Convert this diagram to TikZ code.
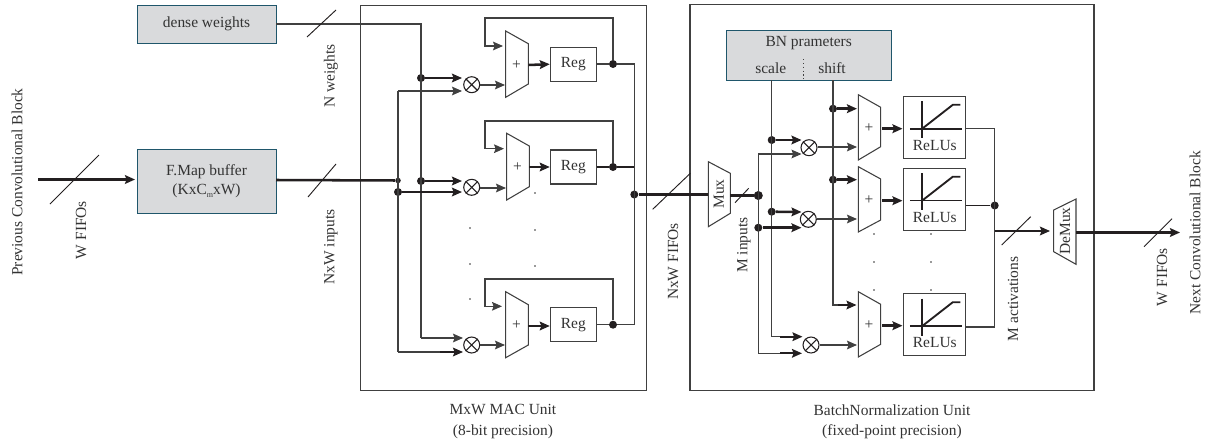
\documentclass[tikz,border=0pt]{standalone}
\usepackage{fontspec}
\setmainfont{Liberation Serif}
\usetikzlibrary{arrows.meta,calc}
\definecolor{ln}{HTML}{404040}
\definecolor{blk}{HTML}{231F20}
\definecolor{bx}{HTML}{D9DADC}
\definecolor{teal}{HTML}{1F566B}
\definecolor{txt}{HTML}{333333}
\tikzset{
  x=.75pt,y=-.75pt,
  wire/.style={draw=ln,line width=.8pt},
  bus/.style={draw=blk,line width=1.9pt},
  midbus/.style={draw=blk,line width=1.4pt},
  slash/.style={draw=blk,line width=.7pt},
  arrw/.style={-{Stealth[length=7.5pt,width=6.5pt,inset=1.2pt]}},
  lab/.style={text=txt,font=\fontsize{11.6}{14.6}\selectfont,inner sep=0pt,align=center},
  vlab/.style={lab,rotate=90},
  store/.style={draw=teal,fill=bx,line width=.7pt,lab,inner sep=0pt},
  regbox/.style={draw=ln,line width=.8pt,lab,inner sep=0pt,minimum width={46*.75pt},minimum height={34*.75pt}},
  relubox/.style={draw=ln,line width=1pt,inner sep=0pt,minimum width={62*.75pt},minimum height={62*.75pt}},
  unit/.style={draw=ln,line width=.8pt,inner sep=0pt},
  mult/.style={circle,draw=blk,line width=.8pt,fill=white,inner sep=0pt,minimum size={16*.75pt}},
  dotb/.style={circle,fill=blk,inner sep=0pt,minimum size={8*.75pt}},
  dots/.style={circle,fill=blk,inner sep=0pt,minimum size={5.5*.75pt}},
  trap/.style={draw=ln,line width=.8pt,fill=white,line join=miter},
  pt/.style={circle,fill=txt,inner sep=0pt,minimum size=1.2pt},
}
\newcommand{\multnode}[2]{%
  \node[mult] (#1) at (#2) {};
  \draw[blk,line width=.8pt] (#1.45) -- (#1.225) (#1.135) -- (#1.315);}
\newcommand{\relunode}[3]{% name, centre x, centre y
  \node[relubox] (#1) at (#2,#3) {};
  \draw[blk,line width=1.4pt]
    ($(#1.center)+(-12.5,-26)$) -- ($(#1.center)+(-12.5,11)$)
    ($(#1.center)+(-25,1.3)$) -- ($(#1.center)+(27,1.3)$);
  \draw[blk,line width=1.4pt] ($(#1.center)+(-12.5,1.3)$) -- ($(#1.center)+(18,-22.5)$) -- ($(#1.center)+(25.5,-22.5)$);
  \node[lab] at ($(#1.center)+(0,18)$) {ReLUs};}
\begin{document}
\begin{tikzpicture}
\useasboundingbox (0,0) rectangle (1210,443);
% units
\node[unit,minimum width={286*.75pt},minimum height={384.6*.75pt}] (mac) at (503.7,198) {};
\node[unit,minimum width={404*.75pt},minimum height={386.3*.75pt}] (bn) at (892,197.2) {};
\node[lab] (maclab) at (503,421.5) {MxW MAC Unit\\[.5pt](8-bit precision)};
\node[lab] (bnlab) at (892,421.5) {BatchNormalization Unit\\[.5pt](fixed-point precision)};
% stores
\node[store,minimum width={139*.75pt},minimum height={38*.75pt}] (dw) at (206.5,24) {dense weights};
\node[store,minimum width={139*.75pt},minimum height={64*.75pt}] (fm) at (206.5,181) {F.Map buffer\\(KxC\raisebox{-.45ex}{\fontsize{6}{6}\selectfont m}xW)};
\node[store,minimum width={165.4*.75pt},minimum height={49.6*.75pt}] (bp) at (809,55.5) {};
\node[lab] (bpt) at (808.7,43) {BN prameters};
\node[lab] (bpsc) at (770.7,68) {scale};
\node[lab] (bpsh) at (832,68) {shift};
\draw[ln,line width=.9pt,dotted] (803.7,59) -- (803.7,79);
% rotated labels
\node[vlab] (prev) at (17,182) {Previous Convolutional Block};
\node[vlab] (wf1) at (81,230) {W FIFOs};
\node[vlab] (nw) at (331,76) {N weights};
\node[vlab] (nxi) at (331,247) {NxW inputs};
\node[vlab] (nxf) at (673,261.5) {NxW FIFOs};
\node[vlab] (mi) at (744,245) {M inputs};
\node[vlab] (mact) at (1013,299) {M activations};
\node[vlab] (wf2) at (1162,277) {W FIFOs};
\node[vlab] (next) at (1195,232.7) {Next Convolutional Block};
% coordinates
\coordinate (start) at (38,179.5);
\coordinate (fmin) at (135,179.5);
\coordinate (fmout) at (276,180);
\coordinate (nwc) at (421,24);
\coordinate (nwb) at (421,338);
\coordinate (m3a) at (463,338);
\coordinate (nxb) at (398,352);
\coordinate (m3b) at (463,352);
\coordinate (nxt) at (398,91);
\coordinate (m1b) at (462,91);
\coordinate (m1a) at (462,78);
\coordinate (m2a) at (462,181);
\coordinate (m2b) at (462,192);
\node[dotb] (d1) at (421,78) {};
\node[dotb] (d2) at (421,181) {};
\node[dots] (d3) at (398,180.5) {};
\node[dotb] (d4) at (398,192) {};
% MAC wires
\draw[wire] (dw.east |- nwc) -- (nwc) -- (nwb);
\draw[wire,arrw] (nwb) -- (m3a);
\draw[wire] (nxt) -- (nxb);
\draw[wire] (nxb) -- (440,352);
\draw[midbus,arrw] (440,352) -- (m3b);
\draw[wire,arrw] (nxt) -- (m1b);
\draw[bus,arrw] (d1) -- (m1a);
\draw[bus,arrw] (d2) -- (m2a);
\draw[bus,arrw] (d4) -- (m2b);
\draw[bus,arrw] (start) -- (fmin);
\draw[bus] (fmout) -- (d3);
% MAC blocks
\multnode{m1}{471.7,84.7}
\multnode{m2}{471.7,187.3}
\multnode{m3}{471.7,345}
\draw[trap] (505.7,31) -- (528.3,43.7) -- (528.3,84) -- (505.7,97.3) -- cycle;
\draw[trap] (506.7,133.3) -- (529.3,146) -- (529.3,186.7) -- (506.7,200) -- cycle;
\draw[trap] (505.7,291.7) -- (528.3,304.7) -- (528.3,345) -- (505.7,357.7) -- cycle;
\node[lab] (p1) at (516.5,65) {+};
\node[lab] (p2) at (517.5,167) {+};
\node[lab] (p3) at (516.5,325) {+};
\node[regbox] (r1) at (573.3,64.2) {Reg};
\node[regbox] (r2) at (573.3,167) {Reg};
\node[regbox] (r3) at (573.3,324.7) {Reg};
\node[dotb] (f1) at (613,64) {};
\node[dotb] (f2) at (613,167) {};
\node[dotb] (f3) at (613,324.7) {};
\coordinate (bust) at (634.3,64);
\coordinate (busb) at (634.3,324.7);
\node[dotb] (bm) at (634.3,194.5) {};
% MAC connectors
\draw[wire,arrw] (m1.east |- 0,85) -- (505,85);
\draw[wire,arrw] (m2.east |- 0,188) -- (506,188);
\draw[wire,arrw] (m3.east |- 0,345) -- (505,345);
\draw[bus,arrw] (528.3,65) -- (r1.west);
\draw[bus,arrw] (529.3,167) -- (r2.west);
\draw[bus,arrw] (528.3,326) -- (r3.west |- 0,326);
\draw[wire] (r1.east |- f1) -- (f1) -- (bust) -- (busb) -- (f3) -- (r3.east |- f3);
\draw[midbus] (r2.east) -- (f2) -- (634.3,167);
\draw[wire,arrw] (f1) -- (613,18) -- (485,18) -- (485,46) -- (503,46);
\draw[wire,arrw] (f2) -- (613,121) -- (485,121) -- (485,148.7) -- (504,148.7);
\draw[wire,arrw] (f3) -- (613,279) -- (485,279) -- (485,306.3) -- (502,306.3);
% Mux / DeMux
\draw[trap] (708.3,161.7) -- (730.3,173.3) -- (730.3,213.3) -- (708.3,226.7) -- cycle;
\node[vlab] (muxt) at (719,194) {Mux};
\draw[trap] (1053.7,210) -- (1076,199) -- (1076,264.3) -- (1053.7,251.7) -- cycle;
\node[vlab] (dmxt) at (1065,231) {DeMux};
\draw[bus] (bm) -- (708.3,194.5);
% BN junctions
\coordinate (sct) at (771.7,80);
\coordinate (scb) at (771.7,336.7);
\coordinate (sht) at (833,80);
\coordinate (shb) at (833,305);
\coordinate (mit) at (758.3,154);
\coordinate (mib) at (758.3,353.3);
\node[dotb] (s1) at (771.7,140) {};
\node[dotb] (s2) at (771.7,211.7) {};
\node[dotb] (h1) at (833,108.7) {};
\node[dotb] (h2) at (833,179.7) {};
\node[dotb,minimum size={9*.75pt}] (i1) at (758.3,195.5) {};
\node[dotb] (i2) at (758.3,227.7) {};
\draw[bus] (730.3,195.5) -- (i1);
\draw[wire] (sct) -- (scb) -- (780,336.7);
\draw[midbus,arrw] (780,336.7) -- (802.5,336.7);
\draw[wire] (sht) -- (shb) -- (838,305);
\draw[midbus,arrw] (838,305) -- (856.5,305);
\draw[wire] (mit) -- (mib) -- (780,353.3);
\draw[midbus,arrw] (780,353.3) -- (802,353.3);
\draw[wire,arrw] (mit) -- (801.5,154);
\draw[bus,arrw] (s1) -- (801.5,140);
\draw[bus,arrw] (s2) -- (801.5,212);
\draw[bus,arrw] (i2) -- (801.5,227.7);
\draw[bus,arrw] (h1) -- (857,108.7);
\draw[bus,arrw] (h2) -- (857,179.7);
% BN blocks
\multnode{b1}{809,147.7}
\multnode{b2}{808.3,219.3}
\multnode{b3}{811,345}
\draw[trap] (858.3,94.7) -- (880.7,107.3) -- (880.7,146.7) -- (858.3,160) -- cycle;
\draw[trap] (858.3,166.7) -- (880.7,179) -- (880.7,220) -- (858.3,232) -- cycle;
\draw[trap] (858.3,291.7) -- (880.7,304.3) -- (880.7,344.3) -- (858.3,357) -- cycle;
\node[lab] (q1) at (869,128) {+};
\node[lab] (q2) at (869,200) {+};
\node[lab] (q3) at (869,325) {+};
\draw[wire,arrw] (b1.east |- 0,147) -- (857,147);
\draw[wire,arrw] (b2.east |- 0,219) -- (857,219);
\draw[wire,arrw] (b3.east |- 0,345) -- (857,345);
\relunode{u1}{934.8}{127.3}
\relunode{u2}{934.8}{199.2}
\relunode{u3}{934.8}{324.7}
\draw[bus,arrw] (882,128.7) -- (902.5,128.7);
\draw[bus,arrw] (882,200.7) -- (902.5,200.7);
\draw[bus,arrw] (882,325.7) -- (902.5,325.7);
\coordinate (ot) at (994.7,128.7);
\coordinate (ob) at (994.7,327);
\node[dotb] (od) at (994.7,205.5) {};
\draw[wire] (u1.east |- ot) -- (ot) -- (ob) -- (u3.east |- ob);
\draw[midbus] (u2.east |- od) -- (od);
\draw[bus,arrw] (994.7,231) -- (1050,231);
\draw[bus,arrw] (1076,232.5) -- (1180,232.5);
% bus slashes
\draw[slash] (50,204) -- (99,155);
\draw[slash] (307,37) -- (336,10);
\draw[slash] (308,197) -- (336,164);
\draw[slash] (652.7,209.3) -- (690.3,173.3);
\draw[slash] (735,202.7) -- (748.7,188.3);
\draw[slash] (1001.7,245) -- (1030.7,216.7);
\draw[slash] (1144,246.7) -- (1172,218.7);
% ellipsis dots
\foreach \x/\y in {470/228,470/264,470/299,535/193,535/230,535/266,874/234,874/262,874/290,931/234,931/262,931/290}
  \node[pt] at (\x,\y) {};
\end{tikzpicture}
\end{document}
